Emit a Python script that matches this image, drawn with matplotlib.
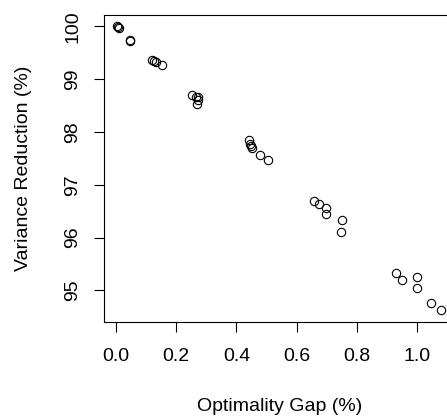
import matplotlib
matplotlib.use('Agg')
import matplotlib.pyplot as plt

plt.rcParams['font.family'] = ['Liberation Sans', 'DejaVu Sans']

# optimality gap (%) and variance reduction (%)
gap = [0.003, 0.008, 0.005, 0.046, 0.047,
       0.120, 0.126, 0.133, 0.151,
       0.253, 0.265, 0.273, 0.270, 0.272,
       0.440, 0.444, 0.447, 0.452, 0.478, 0.505,
       0.656, 0.673, 0.698, 0.698, 0.751, 0.746,
       0.931, 0.951, 0.998, 0.998, 1.045, 1.081]
var_red = [100.00, 99.97, 99.99, 99.75, 99.73,
           99.36, 99.35, 99.32, 99.27,
           98.70, 98.67, 98.66, 98.53, 98.61,
           97.85, 97.78, 97.74, 97.70, 97.57, 97.47,
           96.69, 96.63, 96.55, 96.44, 96.33, 96.10,
           95.32, 95.19, 95.26, 95.04, 94.75, 94.62]

xticks = [0.0, 0.2, 0.4, 0.6, 0.8, 1.0]
yticks = [95, 96, 97, 98, 99, 100]

fig = plt.figure(figsize=(4.47, 4.17), dpi=100)
ax = fig.add_axes([0.2327, 0.2285, 0.784, 0.7355])
ax.plot(gap, var_red, 'o', mfc='none', mec='black', ms=6, mew=0.8)

# R-style 4% padding on both axes
xr = max(gap) - min(gap)
yr = max(var_red) - min(var_red)
ax.set_xlim(min(gap) - 0.04 * xr, max(gap) + 0.04 * xr)
ax.set_ylim(min(var_red) - 0.04 * yr, max(var_red) + 0.04 * yr)

ax.set_xticks(xticks)
ax.set_xticklabels(['%.1f' % t for t in xticks])
ax.set_yticks(yticks)
ax.set_yticklabels([str(t) for t in yticks], rotation=90, va='center')
ax.tick_params(length=7, width=0.8, labelsize=14)
ax.tick_params(axis='x', pad=12)
ax.tick_params(axis='y', pad=9.5)
for s in ax.spines.values():
    s.set_linewidth(0.8)

ax.set_xlabel('Optimality Gap (%)', fontsize=14, labelpad=24)
ax.set_ylabel('Variance Reduction (%)', fontsize=14, labelpad=23)

fig.savefig('out.png', dpi=100)
